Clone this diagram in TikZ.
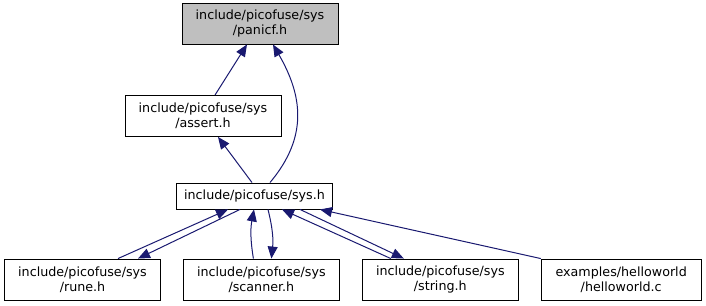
\documentclass[tikz,border=0pt]{standalone}
\usepackage{fontspec}
\setmainfont{DejaVu Sans}
\usetikzlibrary{arrows.meta, positioning}
\definecolor{edgeblue}{HTML}{191970}

\begin{document}
\begin{tikzpicture}[
		x=1pt, y=1pt,
		node distance=22pt,
		file/.style={rectangle, draw=black, fill=white, line width=0.9pt, minimum width=156pt, minimum height=41pt, inner sep=2pt, align=center, font=\fontsize{12.7}{15}\selectfont},
		current/.style={file, fill=gray!50},
		dep/.style={-{Triangle[length=12pt, width=10pt]}, draw=edgeblue, line width=1pt}
		]
		\useasboundingbox (0,0) rectangle (706,305);
		
		\node[current] (panicf) at (260,281.5) {include/picofuse/sys\\/panicf.h};
		\node[file] (assert) at (203,189) {include/picofuse/sys\\/assert.h};
		\node[file, minimum height=26pt] (sysh) at (254.5,109) {include/picofuse/sys.h};
		
		\node[file] (rune) at (82.5,25.5) {include/picofuse/sys\\/rune.h};
		\node[file, right=of rune] (scanner) {include/picofuse/sys\\/scanner.h};
		\node[file, right=of scanner] (string) {include/picofuse/sys\\/string.h};
		\node[file, right=of string, minimum width=160pt] (hello) {examples/helloworld\\/helloworld.c};
		
		\draw[dep] ([xshift=12pt]assert.north) -- ([xshift=-13pt]panicf.south);
		\draw[dep] ([xshift=15.5pt]sysh.north) to[out=50, in=-60, looseness=1.1] ([xshift=13pt]panicf.south);
		\draw[dep] ([xshift=-2.5pt]sysh.north) -- ([xshift=15pt]assert.south);
		
		\draw[dep] ([xshift=35.5pt]rune.north) -- ([xshift=-26.5pt]sysh.south);
		\draw[dep] ([xshift=-14.5pt]sysh.south) -- ([xshift=55.5pt]rune.north);
		\draw[dep] ([xshift=-8pt]scanner.north) to[bend left=10] ([xshift=-0.5pt]sysh.south);
		\draw[dep] ([xshift=13.5pt]sysh.south) to[bend left=10] ([xshift=10pt]scanner.north);
		\draw[dep] ([xshift=-49.5pt]string.north) -- ([xshift=27.5pt]sysh.south);
		\draw[dep] ([xshift=45.5pt]sysh.south) -- ([xshift=-36.5pt]string.north);
		\draw[dep] (hello.north west) -- ([xshift=65.5pt]sysh.south);
		
\end{tikzpicture}
\end{document}
